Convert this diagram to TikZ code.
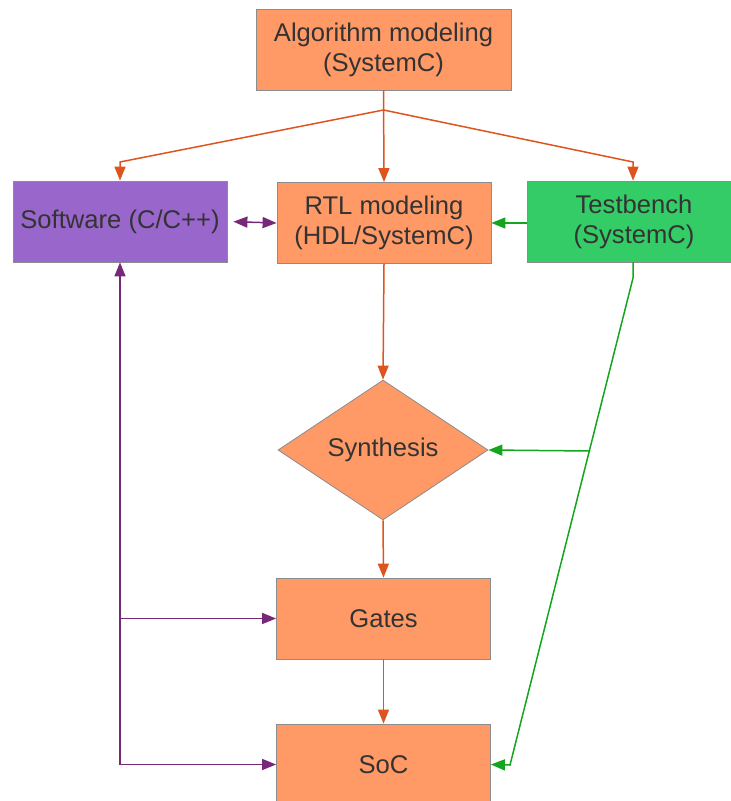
\documentclass[tikz,border=0pt]{standalone}
\usepackage{fontspec}
\setmainfont{Liberation Sans}
\usetikzlibrary{shapes.geometric,arrows.meta}
\definecolor{boxorange}{RGB}{255,153,102}
\definecolor{boxpurple}{RGB}{153,102,204}
\definecolor{boxgreen}{RGB}{51,204,102}
\definecolor{boxedge}{RGB}{140,140,140}
\definecolor{txt}{RGB}{51,51,51}
\definecolor{lnorange}{RGB}{222,84,30}
\definecolor{lnpurple}{RGB}{120,40,120}
\definecolor{lngreen}{RGB}{20,165,30}

\begin{document}
\begin{tikzpicture}[x=0.5pt,y=-0.5pt,
  blk/.style={draw=boxedge,fill=boxorange,text=txt,align=center,inner sep=0pt,
    minimum width=107pt,minimum height=40.5pt,font=\fontsize{12.8}{15}\selectfont},
  dec/.style={blk,diamond,minimum width=105pt,minimum height=70pt},
  flow/.style={draw=lnorange,line width=0.75pt,-{Triangle[length=7pt,width=5.5pt]}},
  sw/.style={draw=lnpurple,line width=0.75pt,-{Triangle[length=7pt,width=5.5pt]}},
  tb/.style={draw=lngreen,line width=0.75pt,-{Triangle[length=7pt,width=5.5pt]}}]
\useasboundingbox (0,0) rectangle (731,801);
%\fill[white] (0,0) rectangle (731,801);
\node[blk,minimum width=127.5pt] (alg) at (383.5,49.5) {Algorithm modeling\\(SystemC)};
\node[blk,fill=boxpurple] (soft) at (120,221.5) {Software (C/C++)};
\node[blk] (rtl) at (384,223) {RTL modeling\\(HDL/SystemC)};
\node[blk,fill=boxgreen] (test) at (634,221.5) {Testbench\\(SystemC)};
\node[dec] (syn) at (383,450) {Synthesis};
\node[blk] (gates) at (383.5,618.5) {Gates};
\node[blk] (soc) at (383.5,764.5) {SoC};

\coordinate (split) at (383.5,110);
\coordinate (tbk) at (633,278);
\coordinate (tbe) at (510,765);
\coordinate (tbm) at (590,451);

\draw[flow] (alg.south) -- (rtl.north);
\draw[flow] (split) -- (120,162) -- (soft.north);
\draw[flow] (split) -- (633,162) -- (test.north -| 633,0);
\draw[flow] (rtl.south) -- (syn.north);
\draw[flow] (syn.south) -- (gates.north);
\draw[flow] (gates.south) -- (soc.north);

\draw[sw,{Triangle[length=7pt,width=5.5pt]}-{Triangle[length=7pt,width=5.5pt]},shorten <=3pt] (soft.east) -- (rtl.west);
\draw[sw] (soft.south |- soc.west) -- (soft.south);
\draw[sw] (soft.south |- soc.west) -- (soc.west);
\draw[sw] (soft.south |- gates.west) -- (gates.west);

\draw[tb] (test.west |- rtl.east) -- (rtl.east);
\draw[tb] (test.south -| tbk) -- (tbk) -- (tbe) -- (soc.east);
\draw[tb] (tbm) -- (syn.east);
\end{tikzpicture}
\end{document}
